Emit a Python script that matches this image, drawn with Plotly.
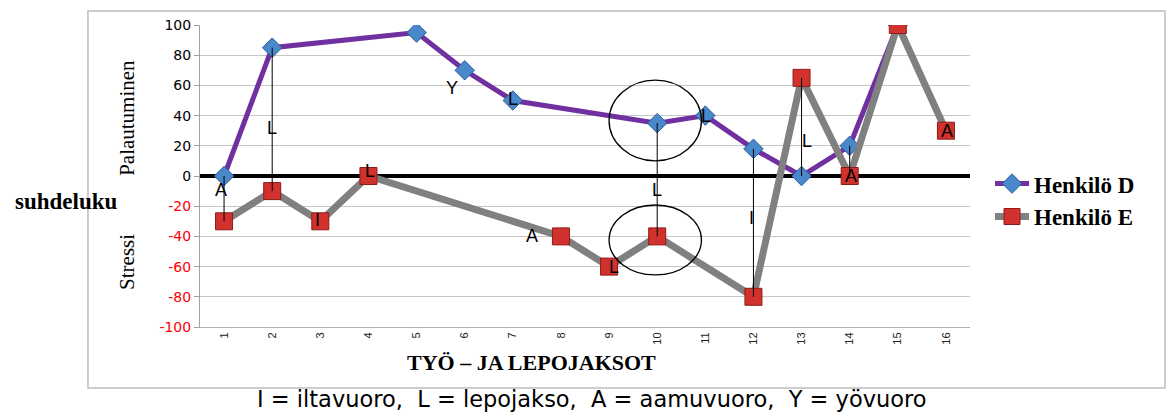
import plotly.graph_objects as go

# ---------------- data ----------------
categories = list(range(1, 17))
henkilo_d = [0, 85, None, None, 95, 70, 50, None, None, 35, 40, 18, 0, 20, 100, None]
henkilo_e = [-30, -10, -30, 0, None, None, None, -40, -60, -40, None, -80, 65, 0, 100, 30]
y_ticks = [-100, -80, -60, -40, -20, 0, 20, 40, 60, 80, 100]
# shift-code labels: (text, category, value)
shift_labels = [
    ("A", 0.94, -9), ("L", 2, 32), ("I", 2.95, -29), ("L", 4.03, 3),
    ("L", 4.98, 102), ("Y", 5.74, 58), ("L", 7, 51), ("A", 7.4, -40),
    ("L", 9.1, -60), ("L", 10, -9), ("L", 11.02, 40), ("I", 11.96, -28),
    ("L", 13.12, 23), ("A", 14.02, 0), ("L", 14.76, 111), ("A", 16.02, 30),
]
legend_names = ["Henkilö D", "Henkilö E"]

SERIF = "Liberation Serif, Times New Roman, serif"
SANS = "Liberation Sans, Arial, sans-serif"

fig = go.Figure()

fig.add_trace(go.Scatter(
    x=categories, y=henkilo_d, name=f"<b>{legend_names[0]}</b>", mode="lines+markers",
    connectgaps=True,
    line=dict(color="#7030a0", width=5),
    marker=dict(symbol="diamond", size=15, color="#4a88cc",
                line=dict(color="#2d5f99", width=1)),
))
fig.add_trace(go.Scatter(
    x=categories, y=henkilo_e, name=f"<b>{legend_names[1]}</b>", mode="lines+markers",
    connectgaps=True,
    line=dict(color="#808080", width=7),
    marker=dict(symbol="square", size=17, color="#d2322d",
                line=dict(color="#8e1b18", width=1)),
))

# high-low lines (categories where both series have a value)
hl_x, hl_y = [], []
for c, d, e in zip(categories, henkilo_d, henkilo_e):
    if d is not None and e is not None:
        hl_x += [c, c, None]
        hl_y += [min(d, e), max(d, e), None]
fig.add_trace(go.Scatter(x=hl_x, y=hl_y, mode="lines", showlegend=False,
                         hoverinfo="skip", line=dict(color="black", width=1)))

tick_text = [
    (f"<span style='color:#ff0000'>{v}</span>" if v < 0 else str(v)) for v in y_ticks
]

annotations = []
for t, x, y in shift_labels:
    annotations.append(dict(x=x, y=y, xref="x", yref="y", text=t, showarrow=False,
                            xanchor="center", yanchor="middle",
                            font=dict(family=SANS, size=18, color="black")))

annotations += [
    dict(x=-0.095, y=0.692, xref="paper", yref="paper", text="Palautuminen",
         textangle=-90, showarrow=False, xanchor="center", yanchor="middle",
         font=dict(family=SERIF, size=21, color="black")),
    dict(x=-0.095, y=0.215, xref="paper", yref="paper", text="Stressi",
         textangle=-90, showarrow=False, xanchor="center", yanchor="middle",
         font=dict(family=SERIF, size=21, color="black")),
    dict(x=-0.174, y=0.414, xref="paper", yref="paper", text="<b>suhdeluku</b>",
         showarrow=False, xanchor="center", yanchor="middle",
         font=dict(family=SERIF, size=23, color="black")),
    dict(x=0.431, y=-0.119, xref="paper", yref="paper",
         text="<b>TYÖ – JA LEPOJAKSOT</b>", showarrow=False,
         xanchor="center", yanchor="middle",
         font=dict(family=SERIF, size=22, color="black")),
    dict(x=0.509, y=-0.2848, xref="paper", yref="paper",
         text="I = iltavuoro,  L = lepojakso,  A = aamuvuoro,  Y = yövuoro",
         showarrow=False, xanchor="center", yanchor="bottom", borderpad=0,
         font=dict(family="DejaVu Sans, sans-serif", size=22.5, color="black")),
]

shapes = [
    dict(type="circle", xref="x", yref="y", x0=9.0, x1=10.92, y0=10, y1=63.5,
         line=dict(color="black", width=1.3), layer="above"),
    dict(type="circle", xref="x", yref="y", x0=9.0, x1=10.92, y0=-65.5, y1=-19.2,
         line=dict(color="black", width=1.3), layer="above"),
    dict(type="rect", xref="paper", yref="paper", x0=-0.1455, x1=1.2532,
         y0=-0.202, y1=1.0464, line=dict(color="#bdbdbd", width=1.5), layer="below"),
]

# page body has an 8px default margin, so the figure is 8px smaller on each side
fig.update_layout(
    width=1166, height=406,
    margin=dict(l=192, r=204, t=17, b=87, autoexpand=False),
    paper_bgcolor="white", plot_bgcolor="white",
    showlegend=True,
    legend=dict(x=1.026, y=0.42, xanchor="left", yanchor="middle",
                font=dict(family=SERIF, size=23, color="black"),
                itemwidth=34, bgcolor="rgba(0,0,0,0)", tracegroupgap=0),
    annotations=annotations,
    shapes=shapes,
    xaxis=dict(range=[0.5, 16.5], tickvals=categories, ticktext=[str(c) for c in categories],
               tickangle=-90, showgrid=False, zeroline=False, automargin=False,
               showline=True, linecolor="#b0b0b0", linewidth=1, ticks="",
               tickfont=dict(family=SANS, size=11, color="#222222")),
    yaxis=dict(range=[-100, 100], tickvals=y_ticks, ticktext=tick_text, automargin=False,
               showgrid=True, gridcolor="#c6c6c6", gridwidth=1,
               zeroline=True, zerolinecolor="black", zerolinewidth=4,
               showline=True, linecolor="#a0a0a0", linewidth=1,
               ticks="outside", ticklen=5, tickcolor="#a0a0a0",
               tickfont=dict(family="DejaVu Sans, sans-serif", size=14, color="black")),
)

fig.write_html("out.html")
